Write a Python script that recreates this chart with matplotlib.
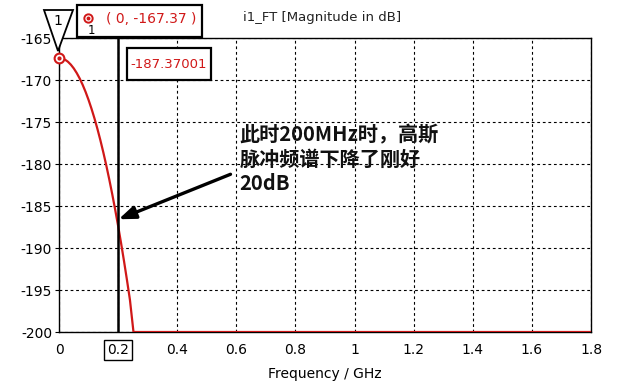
import matplotlib
matplotlib.use("Agg")
import matplotlib.pyplot as plt
from matplotlib.patches import Rectangle, Polygon
from matplotlib.lines import Line2D

plt.rcParams['font.family'] = ['DejaVu Sans']
plt.rcParams['axes.unicode_minus'] = False

# data
freq_ghz = [0.0, 0.01, 0.02, 0.03, 0.04, 0.05, 0.06, 0.07, 0.08, 0.09, 0.10, 0.11, 0.12, 0.13, 0.14,
            0.15, 0.16, 0.17, 0.18, 0.19, 0.20, 0.21, 0.22, 0.23, 0.24, 0.252, 1.8]
mag_db = [-167.37, -167.42, -167.57, -167.82, -168.17, -168.62, -169.17, -169.82, -170.57, -171.42,
          -172.37, -173.42, -174.57, -175.82, -177.17, -178.62, -180.17, -181.82, -183.57, -185.42,
          -187.37, -189.42, -191.57, -193.82, -196.17, -200.0, -200.0]
marker_freq = 0.0
marker_val = -167.37
cursor_freq = 0.2
cursor_val = -187.37001
xticks = [0, 0.2, 0.4, 0.6, 0.8, 1.0, 1.2, 1.4, 1.6, 1.8]
xtick_labels = ['0', '0.2', '0.4', '0.6', '0.8', '1', '1.2', '1.4', '1.6', '1.8']
yticks = [-200, -195, -190, -185, -180, -175, -170, -165]

W, H = 623, 384
fig = plt.figure(figsize=(W / 100, H / 100), dpi=100)
ax = fig.add_axes([59 / W, 1 - 332 / H, (591 - 59) / W, (332 - 38) / H])

red = '#d01818'
ax.plot(freq_ghz, mag_db, color=red, lw=1.6, zorder=3)
ax.plot([marker_freq], [marker_val], 'o', ms=7, mfc='white', mec=red, mew=1.5, zorder=5, clip_on=False)
ax.plot([marker_freq], [marker_val], 'o', ms=2, color=red, zorder=6, clip_on=False)
ax.axvline(cursor_freq, color='black', lw=1.8, zorder=4)

ax.set_xlim(0, 1.8)
ax.set_ylim(-200, -165)
ax.set_xticks(xticks)
ax.set_xticklabels(xtick_labels)
ax.set_yticks(yticks)
ax.grid(True, color='black', linestyle=(0, (2.5, 2.5)), lw=0.8)
for s in ax.spines.values():
    s.set_color('black')
    s.set_linewidth(1.0)
ax.tick_params(axis='x', length=0, pad=8, labelsize=10)
ax.tick_params(axis='y', length=3, direction='out', labelsize=10, pad=2)
for lab in ax.get_xticklabels():
    if lab.get_text() == '0.2':
        lab.set_bbox(dict(facecolor='white', edgecolor='black', lw=1.0, pad=2))
ax.set_xlabel('Frequency / GHz', fontsize=10, labelpad=7)

fig.text(322 / W, 1 - 18 / H, 'i1_FT [Magnitude in dB]', ha='center', va='center', fontsize=9.5, color='#222222')

# marker readout box
fig.patches.append(Rectangle((77 / W, 1 - 37 / H), 125 / W, 32 / H, transform=fig.transFigure,
                             facecolor='white', edgecolor='black', lw=1.6, figure=fig))
fig.add_artist(Line2D([88 / W], [1 - 18 / H], marker='o', ms=6, mfc='white', mec=red, mew=1.4,
                      transform=fig.transFigure))
fig.add_artist(Line2D([88 / W], [1 - 18 / H], marker='o', ms=1.8, color=red, transform=fig.transFigure))
fig.text(91 / W, 1 - 30 / H, '1', ha='center', va='center', fontsize=8.5, color='black')
fig.text(151 / W, 1 - 19 / H, '( 0, %.2f )' % marker_val, ha='center', va='center', fontsize=10, color=red)

# triangle marker
fig.patches.append(Polygon([(44 / W, 1 - 10 / H), (73 / W, 1 - 10 / H), (58 / W, 1 - 51 / H)], closed=True,
                           transform=fig.transFigure, facecolor='white', edgecolor='black', lw=1.3, figure=fig))
fig.text(58 / W, 1 - 21 / H, '1', ha='center', va='center', fontsize=10, color='black')

# cursor value box
fig.patches.append(Rectangle((127 / W, 1 - 80 / H), 84 / W, 32 / H, transform=fig.transFigure,
                             facecolor='white', edgecolor='black', lw=1.6, figure=fig, zorder=10))
fig.text(169 / W, 1 - 64 / H, '%.5f' % cursor_val, ha='center', va='center', fontsize=9.5, color=red, zorder=11)

# annotation
ax.annotate('', xy=(0.193, -186.7), xytext=(0.589, -181.1),
            arrowprops=dict(arrowstyle='-|>,head_length=1.0,head_width=0.38', color='black', lw=2.4), zorder=7)
ax.text(0.61, -179.4, '此时200MHz时，高斯\n脉冲频谱下降了刚好\n20dB', ha='left', va='center',
        fontsize=14.5, fontweight='bold', family=['Noto Sans CJK SC', 'DejaVu Sans'], linespacing=1.2,
        color='#111111', zorder=8)

fig.savefig('out.png', dpi=100)
